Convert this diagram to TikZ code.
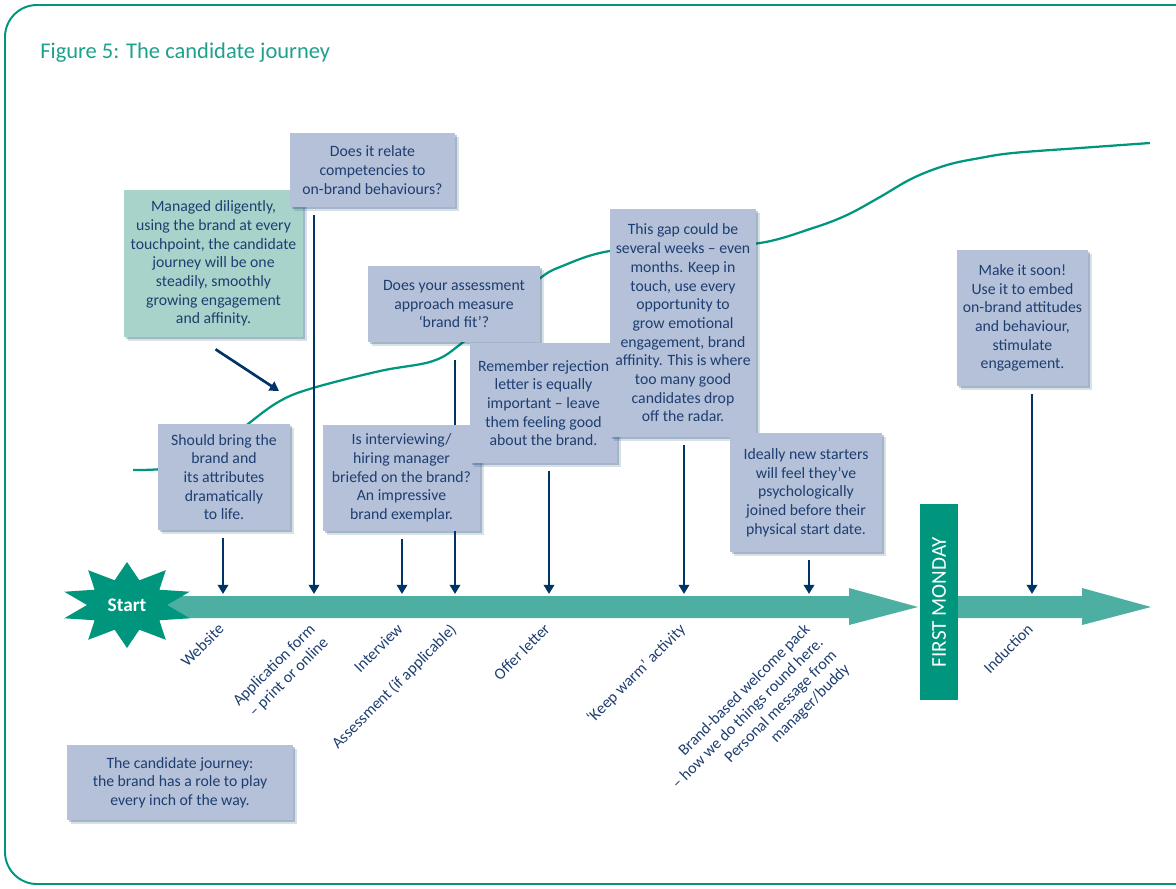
\documentclass[tikz,border=0pt]{standalone}
\usepackage{fontspec}
\setmainfont{Carlito}
\usetikzlibrary{positioning, calc, shadows, arrows.meta}
\pgfdeclarelayer{background}
\pgfsetlayers{background,main}
\definecolor{jteal}{RGB}{0,150,126}
\definecolor{jband}{RGB}{76,175,162}
\definecolor{jnavy}{RGB}{0,52,102}
\definecolor{jtext}{RGB}{30,62,112}
\definecolor{jbox}{RGB}{180,193,217}
\definecolor{jgreen}{RGB}{168,211,203}
\definecolor{jtitle}{RGB}{30,160,140}
\tikzset{ % box sizes given in pixels of the layout grid
  callout/.style 2 args={rectangle,fill=jbox,text=jtext,align=center,inner sep=0pt,
    minimum width=#1*0.025cm,minimum height=#2*0.025cm,
    font=\fontsize{11.2}{13.3}\selectfont,
    drop shadow={shadow xshift=0.09cm,shadow yshift=-0.09cm,fill=jnavy,opacity=0.15},
    drop shadow={shadow xshift=0.05cm,shadow yshift=-0.05cm,fill=jnavy,opacity=0.25}},
  pointer/.style={draw=jnavy,line width=1.9pt,-{Triangle[length=0.23cm,width=0.26cm]}},
  stage label/.style={rotate=45,anchor=north east,align=right,inner sep=0pt,
    text=jtext,font=\fontsize{11.4}{13.3}\selectfont},
  journey curve/.style={draw=jteal,line width=1.6pt}
}

\begin{document}
\begin{tikzpicture}[x=0.025cm,y=-0.025cm]
\useasboundingbox (0,0) rectangle (1176,888);

% frame and title
\begin{scope}
  \clip (0,0) rectangle (1176,888);
  \draw[jteal,line width=1.4pt,rounded corners=0.8cm] (5,5) rectangle (1230,884);
\end{scope}
\node[anchor=west,inner sep=0pt,text=jtitle,font=\fontsize{16}{16}\selectfont]
  (title) at (40,53) {Figure 5: The candidate journey};

% stages on the timeline
\foreach\n/\x in {web/223,appl/314,intv/402,assm/455,offer/549,warm/684,welcome/809,induct/1032}
  \coordinate (\n) at (\x,594);
\coordinate (trend) at (279,391);

% boxes
\node[callout={179}{147},fill=jgreen] (managed) at (213.5,263.5)
  {Managed diligently,\\using the brand at every\\touchpoint, the candidate\\journey will be one\\steadily, smoothly\\growing engagement\\and affinity.};
\node[callout={165}{74}] (relate) at (372.5,170)
  {Does it relate\\competencies to\\on-brand behaviours?};
\node[callout={172}{76}] (fit) at (454,304)
  {Does your assessment\\approach measure\\‘brand fit’?};
\node[callout={132}{106}] (bring) at (224,477)
  {Should bring the\\brand and\\its attributes\\dramatically\\to life.};
\node[callout={157}{106}] (briefed) at (401.5,478)
  {Is interviewing/\\hiring manager\\briefed on the brand?\\An impressive\\brand exemplar.};
\node[callout={147}{120}] (rejection) at (543.5,403)
  {Remember rejection\\letter is equally\\important – leave\\them feeling good\\about the brand.};
\node[callout={146}{228}] (gap) at (683,323)
  {This gap could be\\several weeks – even\\months. Keep in\\touch, use every\\opportunity to\\grow emotional\\engagement, brand\\affinity. This is where\\too many good\\candidates drop\\off the radar.};
\node[callout={152}{119}] (starters) at (806,492.5)
  {Ideally new starters\\will feel they’ve\\psychologically\\joined before their\\physical start date.};
\node[callout={131}{136}] (soon) at (1022.5,318)
  {Make it soon!\\Use it to embed\\on-brand attitudes\\and behaviour,\\stimulate\\engagement.};
\node[callout={226}{75}] (summary) at (180,782.5)
  {The candidate journey:\\the brand has a role to play\\every inch of the way.};

% start star and first monday
\fill[jteal] plot[samples at={0,...,20}]
  ({127+(66-26*mod(\x,2))*cos(90+18*\x)},{605-(43-17*mod(\x,2))*sin(90+18*\x)}) -- cycle;
\node[text=white,font=\bfseries\fontsize{13.7}{14}\selectfont] (start) at (127,605) {Start};
\node[rotate=90,fill=jteal,text=white,inner sep=0pt,minimum width=196*0.025cm,
  minimum height=38*0.025cm,font=\fontsize{15}{15}\selectfont] (monday) at (939,602) {FIRST MONDAY};

% stage labels
\foreach\n/\t in {web/Website,appl/{Application form\\– print or online},intv/Interview,
  assm/Assessment (if applicable),offer/Offer letter,warm/‘Keep warm’ activity,
  welcome/{Brand-based welcome pack\\– how we do things round here.\\Personal message from\\manager/buddy},
  induct/Induction}
  \node[stage label] (l\n) at ($(\n)+(-6,28)$) {\t};

\begin{pgfonlayer}{background}
% timeline band
\fill[jband] (150,596) -- (849,596) -- (849,588) -- (918,607) -- (849,625)
  -- (849,618) -- (150,618) -- cycle;
\fill[jband] (958,596) -- (1082,596) -- (1082,588) -- (1151,607) -- (1082,625)
  -- (1082,618) -- (958,618) -- cycle;
% engagement curve
\draw[journey curve] plot[smooth,tension=0.6] coordinates {(133,470) (170,468) (210,456)
  (248,424) (280,401) (313,388) (380,371) (433,361) (462,343) (500,311) (539,279)
  (560,267) (610,251) (690,247) (760,243) (813,228) (847,215) (880,197)
  (913,178) (947,165) (980,158) (1013,153) (1080,148) (1150,143)};
% pointers
\foreach\b/\n in {bring/web,relate/appl,briefed/intv,rejection/offer,gap/warm,starters/welcome,soon/induct}
  \draw[pointer] ($(\b.south -| \n)+(0,8)$) -- (\n);
\draw[pointer] ($(fit.south -| assm)+(0,18)$) -- (assm);
\draw[pointer] ($(managed.south)+(2,12)$) -- (trend);
\end{pgfonlayer}
\end{tikzpicture}
\end{document}
